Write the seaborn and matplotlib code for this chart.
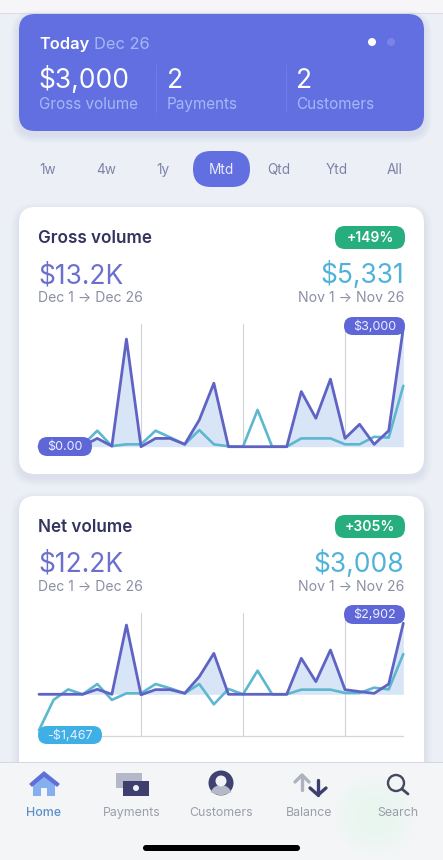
import matplotlib
matplotlib.use("Agg")
import matplotlib.pyplot as plt
from matplotlib.patches import FancyBboxPatch, Circle, Polygon, Rectangle, Wedge
import pandas as pd
import seaborn as sns

days = list(range(1, 27))
gross_current = [0, 0, 0, 20, 210, 15, 2720, 0, 210, 210, 60, 676, 1605, 0, 0, 0, 0, 0, 1394, 718, 1707, 211, 566, 60, 405, 3000]
gross_previous = [0, 0, 0, 40, 405, 15, 60, 60, 405, 235, 60, 420, 60, 10, 0, 930, 0, 0, 210, 210, 210, 60, 60, 250, 230, 1538]
net_current = [0, 0, 0, 0, 204, 0, 2830, -20, 190, 190, 40, 720, 1673, 0, 0, 0, 0, 0, 1470, 517, 1810, 190, 110, 40, 420, 2902]
net_previous = [-1467, -230, 200, 0, 420, -230, 40, 40, 420, 245, 40, 420, -410, 218, 0, 965, 0, 0, 190, 190, 190, 55, 55, 270, 200, 1645]
ranges = ["1w", "4w", "1y", "Mtd", "Qtd", "Ytd", "All"]
nav_labels = ["Home", "Payments", "Customers", "Balance", "Search"]

W, H = 443, 860
PURPLE, TEAL, FILL = "#5f63c4", "#5db7cf", "#d8e5f7"
sns.set_theme(style="white")
plt.rcParams["font.family"] = ["Inter", "DejaVu Sans"]
fig = plt.figure(figsize=(W / 100, H / 100), dpi=100, facecolor="#ecf0f6")


def pixel_axes(z):
    a = fig.add_axes([0, 0, 1, 1], zorder=z)
    a.set_xlim(0, W)
    a.set_ylim(H, 0)
    a.axis("off")
    a.patch.set_alpha(0)
    return a


bg = pixel_axes(0)
fg = pixel_axes(3)


def rrect(a, x0, y0, x1, y1, r, color, alpha=1.0, z=2):
    a.add_patch(FancyBboxPatch((x0 + r, y0 + r), x1 - x0 - 2 * r, y1 - y0 - 2 * r,
                               boxstyle=f"round,pad={r},rounding_size={r}",
                               fc=color, ec="none", lw=0, alpha=alpha, zorder=z))


def shadow(x0, y0, x1, y1, r, color="#8f97c8"):
    for i in range(8, 0, -1):
        rrect(bg, x0 - i, y0 - i + 4, x1 + i, y1 + i + 4, r + i, color, 0.025, 1)


def txt(a, x, y, s, size, color, weight="normal", ha="left", va="baseline"):
    a.text(x, y, s, fontsize=size, color=color, fontweight=weight, ha=ha, va=va, zorder=10)


def pill(x0, y0, x1, y1, s, color):
    rrect(fg, x0, y0, x1, y1, (y1 - y0) / 2, color)
    txt(fg, (x0 + x1) / 2, (y0 + y1) / 2 + 3.6, s, 9.0, "#ecefff", ha="center")


# top status strip
bg.add_patch(Rectangle((0, 0), W, 13, fc="#f6f6f8", ec="none", zorder=1))
bg.add_patch(Rectangle((0, 13), W, 1, fc="#dcdde3", ec="none", zorder=1))

# today card
shadow(19, 14, 424, 131, 16)
rrect(bg, 19, 14, 424, 131, 16, "#626fe0")
txt(bg, 39, 49, "Today", 11.8, "#ffffff", "semibold")
txt(bg, 94, 49, "Dec 26", 11.8, "#a3b8f6")
bg.add_patch(Circle((372, 42), 4, fc="#ffffff", ec="none", zorder=3))
bg.add_patch(Circle((391, 42), 4, fc="#7c83e6", ec="none", zorder=3))
txt(bg, 38, 88, "$3,000", 19, "#ffffff")
txt(bg, 167, 88, "2", 19, "#ffffff")
txt(bg, 296, 88, "2", 19, "#ffffff")
txt(bg, 39, 109, "Gross volume", 11, "#a3b8f6")
txt(bg, 167, 109, "Payments", 11, "#a3b8f6")
txt(bg, 296, 109, "Customers", 11, "#a3b8f6")
for xd in (156, 286):
    bg.add_patch(Rectangle((xd, 65), 1, 48, fc="#6f7ce6", ec="none", zorder=3))

# range selector
rrect(bg, 193, 151, 250, 187, 18, "#626fe0")
for xc, lab in zip((48, 106, 163, 221, 279, 337, 395), ranges):
    txt(bg, xc, 174, lab, 9.8, "#e8ebff" if lab == "Mtd" else "#7d83a8", ha="center")


def card(y0, y1, title, change, now, before, dy):
    shadow(19, y0, 424, y1, 16, "#a3a8c8")
    rrect(bg, 19, y0, 424, y1, 16, "#ffffff")
    txt(bg, 38, 243 + dy, title, 12.3, "#33335f", "semibold")
    rrect(bg, 335, 226 + dy, 405, 249 + dy, 10, "#27ae7f")
    txt(bg, 370, 242 + dy, change, 10, "#ffffff", "semibold", ha="center")
    txt(bg, 38, 283 + dy, now, 19, "#6b70cf")
    txt(bg, 404, 283 + dy, before, 19, "#4fb3d9", ha="right")
    txt(bg, 38, 302 + dy, "Dec 1 \u2192 Dec 26", 10.1, "#8b8fa5")
    txt(bg, 404, 302 + dy, "Nov 1 \u2192 Nov 26", 10.1, "#8b8fa5", ha="right")


card(207, 474, "Gross volume", "+149%", "$13.2K", "$5,331", 0)
card(496, 790, "Net volume", "+305%", "$12.2K", "$3,008", 289)


def chart(current, previous, top_px, bottom_px, ylim, bottom_line):
    a = fig.add_axes([39 / W, 1 - bottom_px / H, (403.3 - 39) / W, (bottom_px - top_px) / H], zorder=2)
    a.patch.set_alpha(0)
    df = pd.DataFrame({"day": days, "current": current, "previous": previous})
    a.fill_between(df["day"], df["current"], 0, color=FILL, lw=0, zorder=1)
    sns.lineplot(data=df, x="day", y="previous", color=TEAL, lw=1.9, ax=a, zorder=3, clip_on=False)
    sns.lineplot(data=df, x="day", y="current", color=PURPLE, lw=2.0, ax=a, zorder=4, clip_on=False)
    a.set_xlim(1, 26)
    a.set_ylim(*ylim)
    a.set_xticks([8, 15, 22])
    a.set_xticklabels([])
    a.set_yticks([])
    a.set_xlabel("")
    a.set_ylabel("")
    a.tick_params(length=0)
    a.grid(axis="x", color="#cfd1d8", lw=0.8, zorder=0)
    a.set_axisbelow(True)
    for s in ("top", "left", "right"):
        a.spines[s].set_visible(False)
    a.spines["bottom"].set_visible(bottom_line)
    a.spines["bottom"].set_color("#d3d6de")
    a.spines["bottom"].set_linewidth(0.9)
    return a


chart(gross_current, gross_previous, 324, 446.7, (0, 3101), False)
bg.add_patch(Rectangle((39, 446), 365, 1.2, fc="#d3d9ea", ec="none", zorder=3))
chart(net_current, net_previous, 613.3, 735.7, (-1692, 3310), True)

pill(344, 317, 405, 335, "$3,000", "#5f66d8")
pill(38, 437, 92, 456, "$0.00", "#5f66d8")
pill(344, 605, 405, 624, "$2,902", "#5f66d8")
pill(38, 726, 102, 744, "-$1,467", "#3fb0e6")

# bottom navigation
fg.add_patch(Rectangle((0, 762), W, H - 762, fc="#f3f5f7", ec="none", zorder=1))
fg.add_patch(Rectangle((0, 761.5), W, 1, fc="#d5d8e0", ec="none", zorder=2))
for rad in range(40, 10, -5):
    fg.add_patch(Circle((375, 815), rad, fc="#e6f6ee", ec="none", alpha=0.16, zorder=1.5))
for xc, lab in zip((44, 132, 221, 309, 398), nav_labels):
    txt(fg, xc, 816, lab, 8.9, "#5b8fc9" if lab == "Home" else "#9a9ea8", "medium" if lab == "Home" else "normal", ha="center")

# home icon
fg.add_patch(Rectangle((33, 784), 22, 12, fc="#86aff0", ec="none", zorder=3))
fg.add_patch(Rectangle((41, 788), 6, 8, fc="#f3f5f7", ec="none", zorder=4))
fg.add_patch(Polygon([(33, 785), (44, 776), (55, 785)], fc="#86aff0", ec="none", zorder=3))
fg.add_patch(Polygon([(30, 784), (44, 772), (59, 784), (57, 786), (44, 776), (32, 786)], fc="#5f6fd8", ec="#5f6fd8", lw=1, zorder=4))
# payments icon
fg.add_patch(Rectangle((116, 773), 26, 15, fc="#b5b8c8", ec="none", zorder=3))
fg.add_patch(Rectangle((123, 781), 26, 15, fc="#3d3f6e", ec="none", zorder=4))
fg.add_patch(Circle((136, 788), 3, fc="#f1f2f6", ec="none", zorder=5))
# customers icon
fg.add_patch(Circle((221, 783), 12.5, fc="#3f4270", ec="none", zorder=3))
fg.add_patch(Wedge((221, 796), 11, 200, 340, fc="#b5b8c8", ec="none", zorder=4))
fg.add_patch(Circle((221, 781), 5.5, fc="#f1f2f6", ec="none", zorder=5))
# balance icon
fg.plot([302, 302], [775, 790], color="#aeb2bd", lw=2.4, zorder=3)
fg.plot([295, 302, 309], [782, 775, 782], color="#aeb2bd", lw=2.4, zorder=3)
fg.plot([318, 318], [780, 795], color="#3d3f6e", lw=2.4, zorder=4)
fg.plot([310, 318, 326], [788, 795, 788], color="#3d3f6e", lw=2.4, zorder=4)
# search icon
fg.add_patch(Circle((396, 783), 8, fc="none", ec="#45485f", lw=1.7, zorder=3))
fg.plot([402, 408], [789, 794], color="#45485f", lw=2, zorder=3)
# home indicator
rrect(fg, 143, 845, 300, 851, 3, "#000000", z=5)

fig.savefig("out.png", dpi=100, facecolor=fig.get_facecolor())
